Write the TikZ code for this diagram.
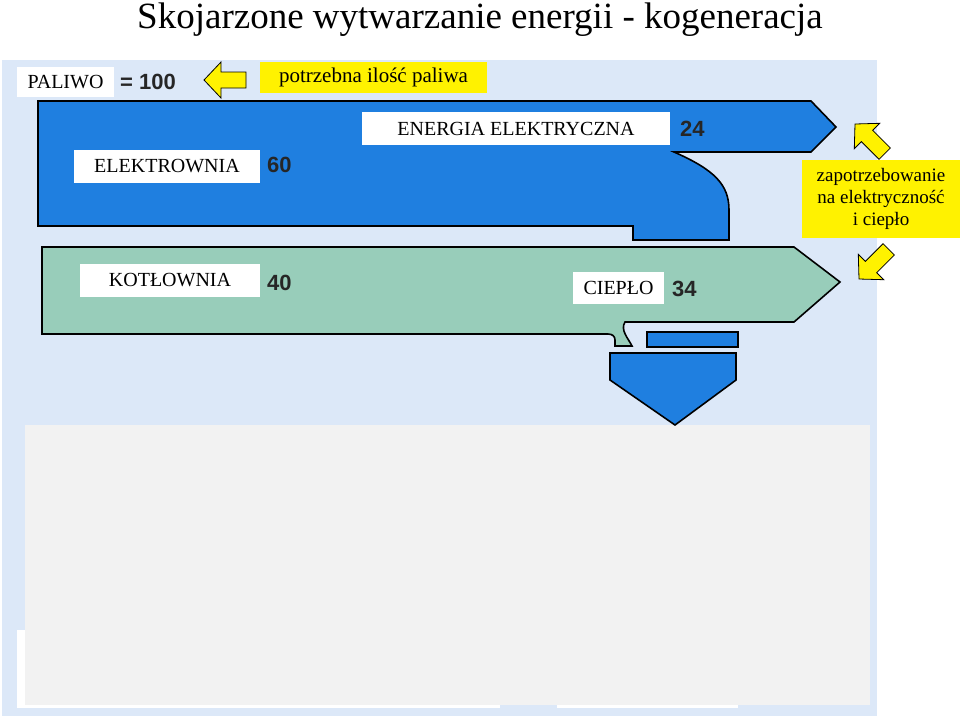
\documentclass[tikz,border=0pt]{standalone}
\usepackage{fontspec}
\setmainfont{Liberation Serif}
\newfontfamily\numfont{Liberation Sans}
\begin{document}
\begin{tikzpicture}[x=1pt,y=-1pt,
  lbl/.style={fill=white,inner sep=0pt,font=\fontsize{20}{22}\selectfont},
  num/.style={anchor=west,inner sep=0pt,font=\numfont\bfseries\fontsize{22}{24}\selectfont,text=black!85},
  ybox/.style={fill=yellow,inner sep=0pt,font=\fontsize{21}{23}\selectfont},
  yarrow/.style={fill=yellow,draw=black,line width=0.8pt,line join=miter},
  flow/.style={draw=black,line width=1.6pt,line join=miter}]
\definecolor{bgblue}{HTML}{DCE8F8}
\definecolor{flowblue}{HTML}{1F7FE0}
\definecolor{flowgreen}{HTML}{98CDBA}
\useasboundingbox (0,0) rectangle (960,716);
\fill[white] (0,0) rectangle (960,716);
\fill[bgblue] (2,60) rectangle (877,716);
\fill[white] (17,630) rectangle (500,708);
\fill[white] (557,700) rectangle (738,708);
\fill[black!5] (25,425) rectangle (870,705);
\node (title) at (480,20) {\fontsize{37}{39}\selectfont Skojarzone wytwarzanie energii - kogeneracja};
% blue flow
\path[flow,fill=flowblue] (38,101) -- (811,101) -- (836,127) -- (811,152) -- (674,152)
  .. controls (715,170) and (729,185) .. (729,210) -- (729,240) -- (633,240) -- (633,226) -- (38,226) -- cycle;
% green flow
\path[flow,fill=flowgreen] (42,247) -- (794,247) -- (840,282) -- (794,322) -- (625,322)
  .. controls (620,330) and (628,338) .. (632,346) -- (615,346) -- (615,340) .. controls (615,336) and (612,334) .. (608,334) -- (42,334) -- cycle;
\path[flow,fill=flowblue] (647,332) rectangle (738,347);
\path[flow,fill=flowblue] (610,353) -- (736,353) -- (736,380) -- (675,425) -- (610,380) -- cycle;
% labels
\node[lbl,minimum width=97,minimum height=30] (paliwo) at (65.5,82) {PALIWO};
\node[num] (n100) at (120,82) {= 100};
\node[ybox,minimum width=227,minimum height=31] (potrz) at (373.5,77.5) {potrzebna ilość paliwa};
\node[lbl,minimum width=308,minimum height=33] (energia) at (516,128.5) {ENERGIA ELEKTRYCZNA};
\node[num] (n24) at (680,129) {24};
\node[lbl,minimum width=186,minimum height=33] (elek) at (167,166.5) {ELEKTROWNIA};
\node[num] (n60) at (267,165) {60};
\node[lbl,minimum width=180,minimum height=33] (kotl) at (170,280.5) {KOTŁOWNIA};
\node[num] (n40) at (267,283) {40};
\node[lbl,minimum width=91,minimum height=32] (cieplo) at (618.5,288) {CIEPŁO};
\node[num] (n34) at (672,289) {34};
\node[ybox,minimum width=158,minimum height=78,align=center,font=\fontsize{19}{22}\selectfont] (zapotrz) at (881,199) {zapotrzebowanie\\na elektryczność\\i ciepło};
% yellow block arrows
\tikzset{blockarrow/.pic={\path[yarrow] (0,0) -- (17,-18) -- (17,-8) -- (42,-8) -- (42,8) -- (17,8) -- (17,18) -- cycle;}}
\pic at (204,80) {blockarrow};
\pic[rotate=-45] at (855,124) {blockarrow};
\pic[rotate=45] at (859,279) {blockarrow};
\end{tikzpicture}
\end{document}
